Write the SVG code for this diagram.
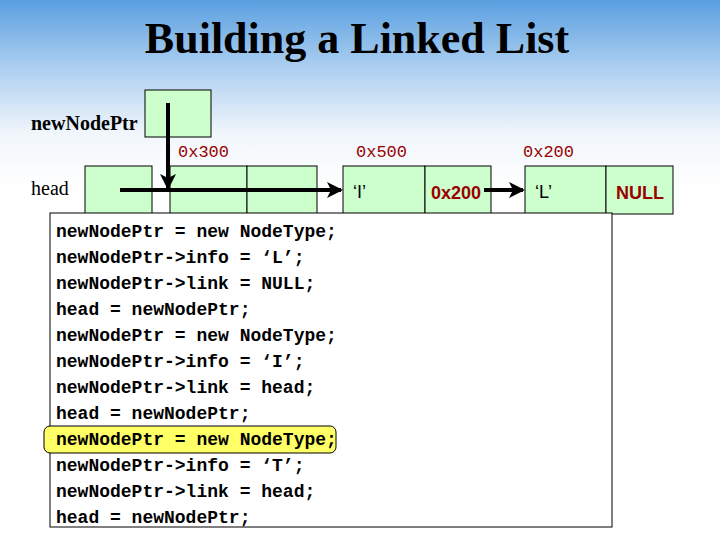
<svg xmlns="http://www.w3.org/2000/svg" width="720" height="540" viewBox="0 0 720 540">
<defs>
<linearGradient id="bg" x1="0" y1="0" x2="0" y2="1">
<stop offset="0" stop-color="#5a9fe0"/><stop offset="0.12" stop-color="#a9cdf0"/><stop offset="0.25" stop-color="#f2f7fc"/><stop offset="0.35" stop-color="#ffffff"/><stop offset="1" stop-color="#ffffff"/>
</linearGradient>
<marker id="ah" markerWidth="4" markerHeight="4" refX="3.5" refY="2" orient="auto" markerUnits="strokeWidth"><path d="M0,0 L4,2 L0,4 L1,2 Z" fill="#000"/></marker>
</defs>
<style>
.box{fill:#ccffcc;stroke:#000;stroke-width:1}
.addr{font-family:"Liberation Mono",monospace;font-size:17px;fill:#990000}
.code{font-family:"Liberation Mono",monospace;font-size:18px;font-weight:bold;fill:#000}
.lbl{font-family:"Liberation Serif",serif;font-size:20px;fill:#000}
.val{font-family:"Liberation Sans",sans-serif;font-size:18px;fill:#000}
.red{font-family:"Liberation Sans",sans-serif;font-size:18px;font-weight:bold;fill:#990000}
.ln{stroke:#000;stroke-width:4;fill:none}
</style>
<rect width="720" height="540" fill="url(#bg)"/>
<text x="357" y="53" text-anchor="middle" font-family="Liberation Serif,serif" font-size="44" font-weight="bold">Building a Linked List</text>
<g id="newNodePtr"><text class="lbl" x="31" y="130" font-weight="bold">newNodePtr</text><rect class="box" x="145" y="90" width="66" height="47"/></g>
<g id="head"><text class="lbl" x="31" y="195">head</text><rect class="box" x="85" y="166" width="67" height="48"/></g>
<g id="node300"><text class="addr" x="178" y="157">0x300</text><rect class="box" x="170" y="166" width="77" height="48"/><rect class="box" x="247" y="166" width="70" height="48"/></g>
<g id="node500"><text class="addr" x="356" y="157">0x500</text><rect class="box" x="343" y="166" width="82" height="48"/><rect class="box" x="425" y="166" width="66" height="48"/><text class="val" x="353" y="198">‘I’</text><text class="red" x="431" y="199">0x200</text></g>
<g id="node200"><text class="addr" x="523" y="157">0x200</text><rect class="box" x="525" y="166" width="81" height="48"/><rect class="box" x="606" y="166" width="67" height="48"/><text class="val" x="535" y="198">‘L’</text><text class="red" x="616" y="199">NULL</text></g>
<g id="code">
<rect x="50" y="213" width="562" height="314" fill="#fff" stroke="#000"/>
<rect x="44" y="426" width="292" height="27" rx="6" fill="#ffff66" stroke="#000"/>
<text class="code" x="56" y="237">newNodePtr = new NodeType;</text>
<text class="code" x="56" y="263">newNodePtr-&gt;info = ‘L’;</text>
<text class="code" x="56" y="289">newNodePtr-&gt;link = NULL;</text>
<text class="code" x="56" y="315">head = newNodePtr;</text>
<text class="code" x="56" y="341">newNodePtr = new NodeType;</text>
<text class="code" x="56" y="367">newNodePtr-&gt;info = ‘I’;</text>
<text class="code" x="56" y="393">newNodePtr-&gt;link = head;</text>
<text class="code" x="56" y="419">head = newNodePtr;</text>
<text class="code" x="56" y="445">newNodePtr = new NodeType;</text>
<text class="code" x="56" y="471">newNodePtr-&gt;info = ‘T’;</text>
<text class="code" x="56" y="497">newNodePtr-&gt;link = head;</text>
<text class="code" x="56" y="523">head = newNodePtr;</text>
</g>
<g id="connectors">
<line class="ln" x1="120" y1="190" x2="341" y2="190" marker-end="url(#ah)"/>
<line class="ln" x1="168" y1="103" x2="168" y2="188" marker-end="url(#ah)"/>
<line class="ln" x1="484" y1="190" x2="523" y2="190" marker-end="url(#ah)"/>
</g>
</svg>
